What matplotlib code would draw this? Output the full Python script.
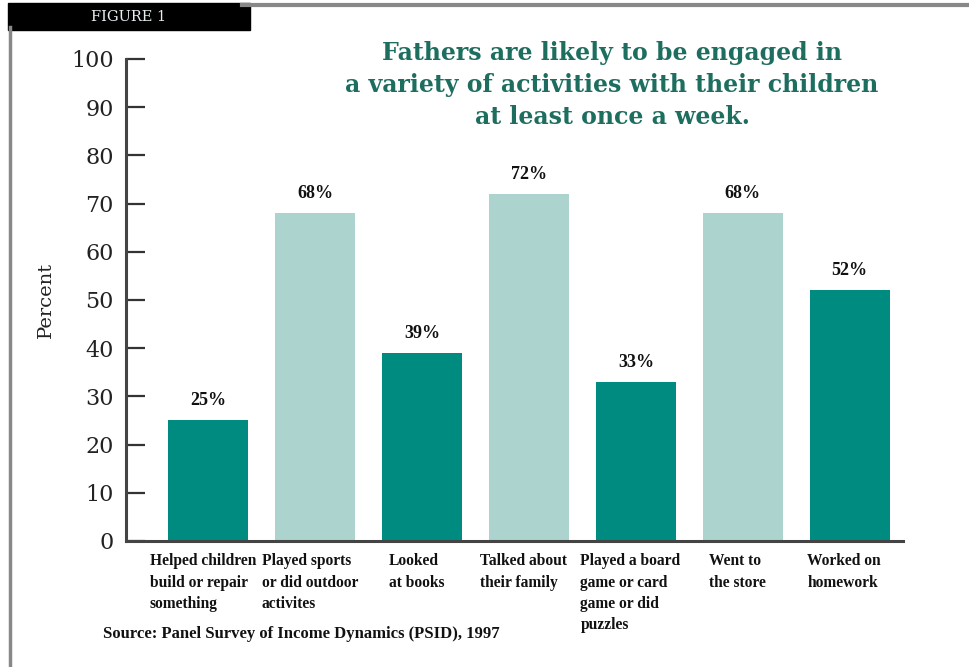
import matplotlib.pyplot as plt
from matplotlib.patches import Rectangle
from matplotlib.lines import Line2D

categories = [
    "Helped children\nbuild or repair\nsomething",
    "Played sports\nor did outdoor\nactivites",
    "Looked\nat books",
    "Talked about\ntheir family",
    "Played a board\ngame or card\ngame or did\npuzzles",
    "Went to\nthe store",
    "Worked on\nhomework",
]
values = [25, 68, 39, 72, 33, 68, 52]
yticks = [0, 10, 20, 30, 40, 50, 60, 70, 80, 90, 100]

dark = '#008B80'
light = '#ADD3CE'
colors = [dark, light, dark, light, dark, light, dark]
serif = ['Liberation Serif', 'DejaVu Serif']
wide_serif = ['DejaVu Serif']


def draw_chart():
    fig = plt.figure(figsize=(9.7, 6.67), dpi=100)
    ax = fig.add_axes([0.13, 0.189, 0.801, 0.7226])

    x = range(len(values))
    ax.bar(x, values, width=0.75, color=colors, zorder=2)

    for xi, v in zip(x, values):
        ax.text(xi, v + 2.3, f"{v}%", ha='center', va='bottom', fontsize=13,
                fontweight='bold', family=serif, color='#111111')

    for xi, lab in zip(x, categories):
        ax.text(xi - 0.05, -2.6, lab, ha='center', va='top',
                multialignment='left', fontsize=11.2, fontweight='bold',
                family=serif, color='#111111', linespacing=1.42)

    ax.set_xlim(-0.77, 6.5)
    ax.set_ylim(0, 100)
    ax.set_xticks([])
    ax.set_yticks(yticks)
    ax.set_yticklabels([str(t) for t in yticks], family=wide_serif, fontsize=16,
                       color='#222222')
    ax.tick_params(axis='y', direction='in', length=14, width=1.6,
                   color='#333333', pad=9)
    for s in ['top', 'right']:
        ax.spines[s].set_visible(False)
    for s in ['left', 'bottom']:
        ax.spines[s].set_linewidth(2.2)
        ax.spines[s].set_color('#444444')
    ax.set_ylabel("Percent", family=wide_serif, fontsize=14, color='#222222')
    ax.yaxis.set_label_coords(-0.091, 0.5)

    # title
    fig.text(0.631, 0.938, "Fathers are likely to be engaged in\n"
             "a variety of activities with their children\n"
             "at least once a week.", ha='center', va='top', fontsize=17,
             fontweight='bold', family=wide_serif, color='#1E6E60',
             linespacing=1.4)

    # source
    fig.text(0.106, 0.05, "Source: Panel Survey of Income Dynamics (PSID), 1997",
             ha='left', va='center', fontsize=12, fontweight='bold',
             family=serif, color='#111111')

    # frame and header box
    fig.add_artist(Line2D([0.01, 0.01], [0.0, 0.96], color='#888888', lw=2.5,
                          transform=fig.transFigure))
    fig.add_artist(Line2D([0.25, 1.0], [0.992, 0.992], color='#888888', lw=3,
                          transform=fig.transFigure))
    fig.add_artist(Rectangle((0.008, 0.955), 0.25, 0.04, color='black',
                             transform=fig.transFigure))
    fig.text(0.133, 0.974, "FIGURE 1", ha='center', va='center', fontsize=10.5,
             color='#E8EEF0', family=wide_serif)

    fig.savefig('out.png', dpi=100)


if __name__ == "__main__":
    draw_chart()
